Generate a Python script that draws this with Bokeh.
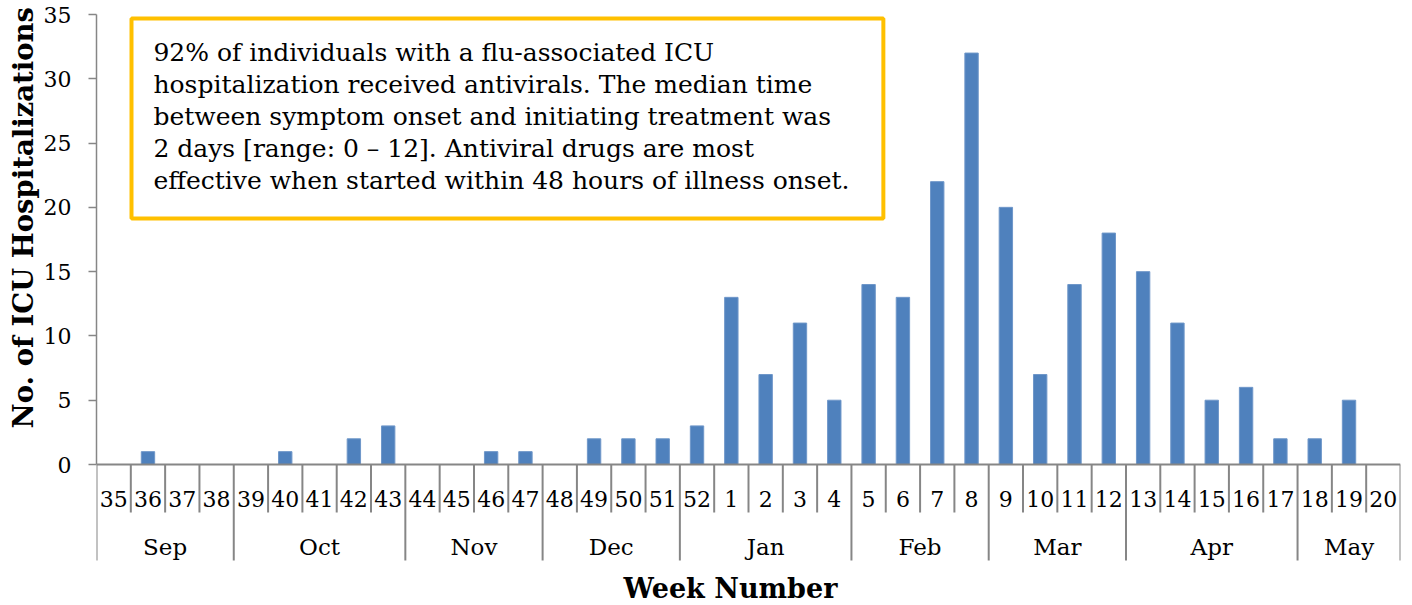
import numpy as np
from bokeh.plotting import figure
from bokeh.models import Range1d, FixedTicker, BoxAnnotation, Label, Title
from bokeh.core.properties import value
from bokeh.embed import file_html
from bokeh.resources import INLINE

# ---- data ----
weeks = ["35", "36", "37", "38", "39", "40", "41", "42", "43", "44", "45", "46", "47",
         "48", "49", "50", "51", "52", "1", "2", "3", "4", "5", "6", "7", "8", "9", "10",
         "11", "12", "13", "14", "15", "16", "17", "18", "19", "20"]
counts = [0, 1, 0, 0, 0, 1, 0, 2, 3, 0, 0, 1, 1,
          0, 2, 2, 2, 3, 13, 7, 11, 5, 14, 13, 22, 32, 20, 7,
          14, 18, 15, 11, 5, 6, 2, 2, 5, 0]
months = ["Sep", "Oct", "Nov", "Dec", "Jan", "Feb", "Mar", "Apr", "May"]
weeks_per_month = [4, 5, 4, 4, 5, 4, 4, 5, 3]
y_ticks = [0, 5, 10, 15, 20, 25, 30, 35]
note_lines = [
    "92% of individuals with a flu-associated ICU",
    "hospitalization received antivirals. The median time",
    "between symptom onset and initiating treatment was",
    "2 days [range: 0 \u2013 12]. Antiviral drugs are most",
    "effective when started within 48 hours of illness onset.",
]
x_title = "Week Number"
y_title = "No. of ICU Hospitalizations"

# ---- styles ----
FONT = "DejaVu Serif"
GRAY = "#868686"
BAR = "#4F81BD"
GOLD = "#FFC000"
PX_PER_UNIT = 450 / 35.0
Y_FRAME_BOTTOM = -141 / PX_PER_UNIT   # frame reaches canvas bottom
Y_CAT_BOTTOM = -96 / PX_PER_UNIT      # bottom of category area
WEEK_TICK = -48 / PX_PER_UNIT
WEEK_LABEL_Y = -34 / PX_PER_UNIT
MONTH_LABEL_Y = -82 / PX_PER_UNIT
X_TITLE_Y = -124 / PX_PER_UNIT
X_TITLE_X = 18.475

n = len(weeks)
centers = np.arange(n) + 0.5

p = figure(width=1404, height=605, output_backend="svg", toolbar_location=None,
           x_range=Range1d(0, n), y_range=Range1d(Y_FRAME_BOTTOM, 35),
           min_border_left=96, min_border_right=4, min_border_top=14, min_border_bottom=0)
p.xaxis.visible = False
p.xgrid.visible = False
p.ygrid.visible = False
p.outline_line_color = None
p.background_fill_color = "white"

ax = p.yaxis[0]
ax.bounds = (0, 35)
ax.ticker = FixedTicker(ticks=y_ticks)
ax.minor_tick_line_color = None
ax.major_tick_in = 0
ax.major_tick_out = 8
ax.axis_line_color = GRAY
ax.axis_line_width = 1.5
ax.major_tick_line_color = GRAY
ax.major_tick_line_width = 1.5
ax.major_label_text_font = FONT
ax.major_label_text_font_size = "22px"
ax.major_label_text_color = "black"
ax.major_label_standoff = 17

# bars
p.vbar(x=centers, top=counts, width=0.39, fill_color=BAR, line_color="#6F97C9", line_width=1)

# baseline and separators
bounds_m = np.concatenate([[0], np.cumsum(weeks_per_month)])
week_bounds = [b for b in range(n + 1) if b not in set(bounds_m)]
p.segment(x0=[0], x1=[n], y0=[0], y1=[0], line_color=GRAY, line_width=2)
p.segment(x0=week_bounds, x1=week_bounds, y0=0, y1=WEEK_TICK, line_color=GRAY, line_width=2)
p.segment(x0=bounds_m, x1=bounds_m, y0=0, y1=Y_CAT_BOTTOM, line_color=GRAY, line_width=2)

# category labels
p.text(x=centers, y=WEEK_LABEL_Y, text=weeks, text_align="center", text_baseline="middle",
       text_font=value(FONT), text_font_size="22px", text_color="black")
month_centers = (bounds_m[:-1] + bounds_m[1:]) / 2.0
p.text(x=month_centers, y=MONTH_LABEL_Y, text=months, text_align="center", text_baseline="middle",
       text_font=value(FONT), text_font_size="23px", text_color="black")

# x title
p.text(x=[X_TITLE_X], y=[X_TITLE_Y], text=[x_title], text_align="center", text_baseline="middle",
       text_font=value(FONT), text_font_size="27px", text_font_style="bold", text_color="black")

# annotation box
box = BoxAnnotation(left=1.02, right=22.93, bottom=19.13, top=34.69,
                    fill_color="white", fill_alpha=1.0, line_color=GOLD, line_alpha=1.0,
                    line_width=4)
p.add_layout(box)
note = Label(x=1.66, y=33.15, text="\n".join(note_lines), text_font=FONT, text_font_size="25px",
             text_baseline="top", text_align="left", text_line_height=1.1, text_color="black")
p.add_layout(note)

# y title
yt = Title(text=y_title, align="left", offset=177, text_font=FONT, text_font_size="27.5px",
           text_font_style="bold", text_color="black", standoff=4)
p.add_layout(yt, "left")

open("out.html", "w").write(file_html(p, INLINE))
